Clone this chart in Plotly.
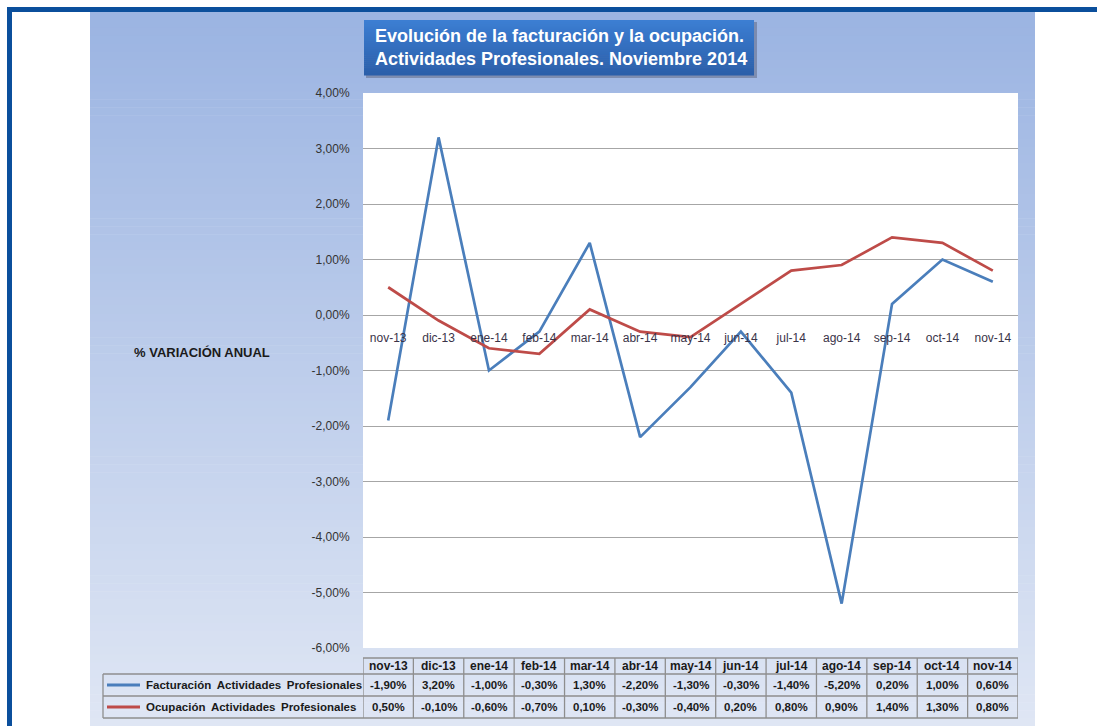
import plotly.graph_objects as go

# ---- data ----
categories = ["nov-13", "dic-13", "ene-14", "feb-14", "mar-14", "abr-14", "may-14",
              "jun-14", "jul-14", "ago-14", "sep-14", "oct-14", "nov-14"]
facturacion = [-1.9, 3.2, -1.0, -0.3, 1.3, -2.2, -1.3, -0.3, -1.4, -5.2, 0.2, 1.0, 0.6]
ocupacion = [0.5, -0.1, -0.6, -0.7, 0.1, -0.3, -0.4, 0.2, 0.8, 0.9, 1.4, 1.3, 0.8]
series_names = ["Facturación Actividades Profesionales", "Ocupación Actividades Profesionales"]
y_ticks = [4, 3, 2, 1, 0, -1, -2, -3, -4, -5, -6]
title_lines = ["Evolución de la facturación y la ocupación.",
               "Actividades Profesionales. Noviembre 2014"]
y_label = "% VARIACIÓN ANUAL"

BLUE = "#4A7EBB"
RED = "#BE4B48"

W, H = 1097, 726
L, R, T, B = 363, 1018, 93, 648


def px(x):
    return (x - L) / (R - L)


def py(y):
    return (B - y) / (B - T)


def fmt(v):
    return f"{v:.2f}".replace(".", ",") + "%"


def lerp(c1, c2, t):
    return "#" + "".join(f"{round(a + (b - a) * t):02x}" for a, b in zip(c1, c2))


shapes = []
# gradient panel
top_c = (0x9B, 0xB4, 0xE2)
bot_c = (0xDF, 0xE6, 0xF4)
y0p, y1p = 12, 726
n = 90
for i in range(n):
    ya = y0p + (y1p - y0p) * i / n
    yb = y0p + (y1p - y0p) * (i + 1) / n + 0.6
    shapes.append(dict(type="rect", xref="paper", yref="paper", x0=px(90), x1=px(1035),
                       y0=py(yb), y1=py(ya), line=dict(width=0),
                       fillcolor=lerp(top_c, bot_c, i / (n - 1)), layer="below"))
# frame
shapes.append(dict(type="rect", xref="paper", yref="paper", x0=px(7), x1=px(1097),
                   y0=py(12), y1=py(7), line=dict(width=0), fillcolor="#0B4F9C", layer="below"))
shapes.append(dict(type="rect", xref="paper", yref="paper", x0=px(7), x1=px(12),
                   y0=py(726), y1=py(7), line=dict(width=0), fillcolor="#0B4F9C", layer="below"))
# plot area white
shapes.append(dict(type="rect", xref="paper", yref="paper", x0=0, x1=1, y0=0, y1=1,
                   line=dict(width=0), fillcolor="white", layer="below"))
# title box shadow + gradient
shapes.append(dict(type="rect", xref="paper", yref="paper", x0=px(366), x1=px(757),
                   y0=py(78), y1=py(22), line=dict(width=0), fillcolor="rgba(60,60,80,0.35)",
                   layer="below"))
tb_top = (0x3C, 0x7E, 0xD2)
tb_bot = (0x2B, 0x5F, 0xAA)
tn = 28
for i in range(tn):
    ya = 20 + 55 * i / tn
    yb = 20 + 55 * (i + 1) / tn + 0.5
    shapes.append(dict(type="rect", xref="paper", yref="paper", x0=px(364), x1=px(754),
                       y0=py(yb), y1=py(ya), line=dict(width=0),
                       fillcolor=lerp(tb_top, tb_bot, i / (tn - 1)), layer="below"))

# data table grid
GRID = "#8E8E8E"
tw = 1.3
rows_y = [658, 674, 696, 718]
for yy in rows_y:
    shapes.append(dict(type="line", xref="paper", yref="paper", x0=px(L), x1=px(R),
                       y0=py(yy), y1=py(yy), line=dict(color=GRID, width=tw)))
for yy in rows_y[1:]:
    shapes.append(dict(type="line", xref="paper", yref="paper", x0=px(103), x1=px(L),
                       y0=py(yy), y1=py(yy), line=dict(color=GRID, width=tw)))
shapes.append(dict(type="line", xref="paper", yref="paper", x0=px(103), x1=px(103),
                   y0=py(718), y1=py(674), line=dict(color=GRID, width=tw)))
for i in range(len(categories) + 1):
    shapes.append(dict(type="line", xref="x", yref="paper", x0=i - 0.5, x1=i - 0.5,
                       y0=py(718), y1=py(658), line=dict(color=GRID, width=tw)))
# legend keys
for k, col in enumerate([BLUE, RED]):
    yy = 685 + 22 * k
    shapes.append(dict(type="line", xref="paper", yref="paper", x0=px(107), x1=px(140),
                       y0=py(yy), y1=py(yy), line=dict(color=col, width=3)))

annotations = []
annotations.append(dict(xref="paper", yref="paper", x=px(373), y=py(48), xanchor="left",
                        yanchor="middle", align="left", showarrow=False,
                        text="<b>" + "<br>".join(title_lines) + "</b>",
                        font=dict(family="Liberation Sans, Arial", size=18, color="white")))
annotations.append(dict(xref="paper", yref="paper", x=px(132), y=py(352), xanchor="left",
                        yanchor="middle", showarrow=False, text="<b>" + y_label + "</b>",
                        font=dict(family="Liberation Sans, Arial", size=13, color="#1a1a1a")))
hfont = dict(family="Liberation Sans, Arial", size=12, color="#1a1a1a")
vfont = dict(family="Liberation Sans, Arial", size=11.5, color="#1a1a1a")
for i, c in enumerate(categories):
    annotations.append(dict(xref="x", yref="paper", x=c, y=py(666), showarrow=False,
                            text="<b>" + c + "</b>", font=hfont, yanchor="middle"))
    annotations.append(dict(xref="x", yref="paper", x=c, y=py(685), showarrow=False,
                            text="<b>" + fmt(facturacion[i]) + "</b>", font=vfont,
                            yanchor="middle"))
    annotations.append(dict(xref="x", yref="paper", x=c, y=py(707), showarrow=False,
                            text="<b>" + fmt(ocupacion[i]) + "</b>", font=vfont,
                            yanchor="middle"))
for k, name in enumerate(series_names):
    annotations.append(dict(xref="paper", yref="paper", x=px(144), y=py(685 + 22 * k),
                            xanchor="left", yanchor="middle", showarrow=False,
                            text="<b>" + name.replace(" ", "\u00a0\u2009") + "</b>",
                            font=dict(family="Liberation Sans, Arial", size=11.5,
                                      color="#1a1a1a")))

fig = go.Figure()
fig.add_trace(go.Scatter(x=categories, y=facturacion, mode="lines", name=series_names[0],
                         line=dict(color=BLUE, width=2.7)))
fig.add_trace(go.Scatter(x=categories, y=ocupacion, mode="lines", name=series_names[1],
                         line=dict(color=RED, width=2.7)))

fig.update_layout(
    width=W, height=H,
    margin=dict(l=L, r=W - R, t=T, b=H - B, pad=0),
    paper_bgcolor="white", plot_bgcolor="rgba(0,0,0,0)",
    showlegend=False,
    separators=",.",
    shapes=shapes, annotations=annotations,
    font=dict(family="Liberation Sans, Arial", size=12, color="#333"),
    xaxis=dict(type="category", range=[-0.5, len(categories) - 0.5], anchor="free",
               position=0.6, showgrid=False, zeroline=False, showline=False,
               ticks="outside", ticklen=12, tickcolor="rgba(0,0,0,0)",
               tickfont=dict(size=12, color="#3a3348")),
    yaxis=dict(range=[-6, 4], tickvals=y_ticks, ticktext=[fmt(v) for v in y_ticks],
               showgrid=True, gridcolor="#A6A6A6", gridwidth=1, zeroline=False,
               showline=False, ticks="outside", ticklen=10, tickcolor="rgba(0,0,0,0)",
               tickfont=dict(size=12, color="#333")),
)

fig.write_html("out.html", config={"displayModeBar": False},
               post_script="document.body.style.margin='0';")
